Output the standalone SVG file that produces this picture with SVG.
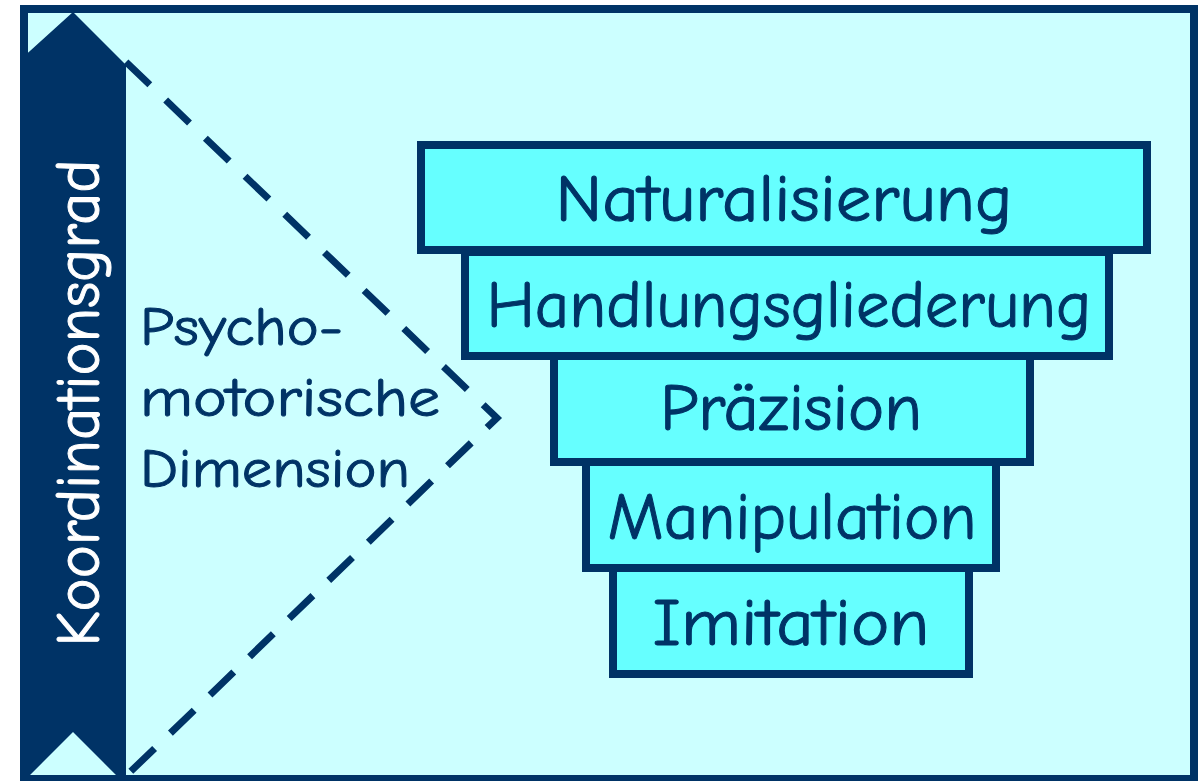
<svg xmlns="http://www.w3.org/2000/svg" width="1201" height="781" viewBox="0 0 1201 781">
<style>
.box{fill:#66FFFF;stroke:#003366;stroke-width:8}
.lbl{font-family:"Comic Sans MS","Comic Neue","DejaVu Sans",sans-serif;fill:#003366;stroke:#003366;stroke-width:1;text-anchor:middle}
.dash{fill:none;stroke:#003366;stroke-width:7;stroke-dasharray:33 22}
</style>
<rect x="0" y="0" width="1201" height="781" fill="#FFFFFF"/>
<rect x="24" y="9" width="1170" height="770" fill="#CCFFFF" stroke="#003366" stroke-width="8"/>
<g id="arrow">
<polygon points="73,12 126,65 126,777 118,777 73,732 28,777 20,777 20,60" fill="#003366"/>
<text x="0" y="0" transform="translate(99,403) rotate(-90)" font-family="'Comic Sans MS','Comic Neue','DejaVu Sans',sans-serif" font-size="62" fill="#FFFFFF" stroke="#FFFFFF" stroke-width="1" text-anchor="middle" textLength="487" lengthAdjust="spacingAndGlyphs">Koordinationsgrad</text>
</g>
<g id="connectors">
<path class="dash" d="M126,62 L497,418 L126,776"/>
</g>
<g id="dimension">
<text font-family="'Comic Sans MS','Comic Neue','DejaVu Sans',sans-serif" font-size="55" fill="#003366" stroke="#003366" stroke-width="1">
<tspan x="140" y="345" textLength="203" lengthAdjust="spacingAndGlyphs">Psycho-</tspan>
<tspan x="140" y="416" textLength="300" lengthAdjust="spacingAndGlyphs">motorische</tspan>
<tspan x="140" y="487" textLength="270" lengthAdjust="spacingAndGlyphs">Dimension</tspan>
</text>
</g>
<g id="imitation">
<rect class="box" x="613" y="568" width="356" height="106"/>
<text class="lbl" x="791" y="645" font-size="66" textLength="277" lengthAdjust="spacingAndGlyphs">Imitation</text>
</g>
<g id="manipulation">
<rect class="box" x="586" y="462" width="410" height="106"/>
<text class="lbl" x="792" y="539" font-size="66" textLength="369" lengthAdjust="spacingAndGlyphs">Manipulation</text>
</g>
<g id="praezision">
<rect class="box" x="554" y="356" width="476" height="106"/>
<text class="lbl" x="791" y="430" font-size="66" textLength="262" lengthAdjust="spacingAndGlyphs">Präzision</text>
</g>
<g id="handlungsgliederung">
<rect class="box" x="465" y="252" width="644" height="104"/>
<text class="lbl" x="789" y="327" font-size="66" textLength="605" lengthAdjust="spacingAndGlyphs">Handlungsgliederung</text>
</g>
<g id="naturalisierung">
<rect class="box" x="421" y="145" width="726" height="105"/>
<text class="lbl" x="784" y="221" font-size="66" textLength="457" lengthAdjust="spacingAndGlyphs">Naturalisierung</text>
</g>
</svg>
